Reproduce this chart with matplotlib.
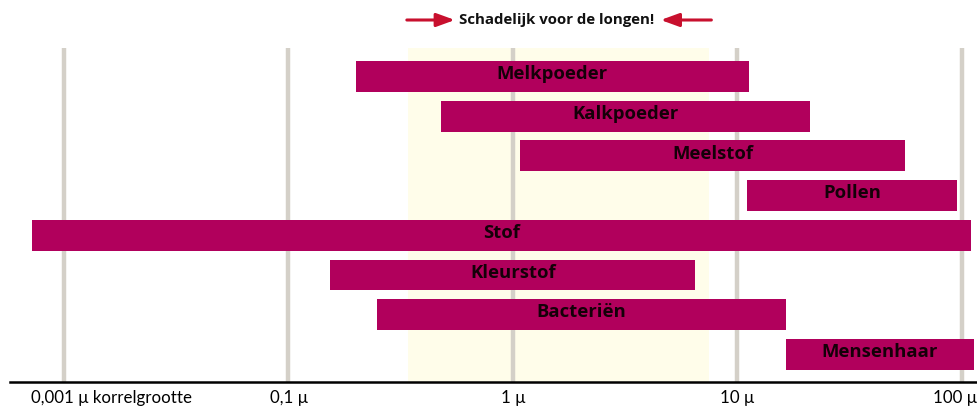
import matplotlib
matplotlib.use("Agg")
import matplotlib.pyplot as plt
import matplotlib.transforms as mtransforms
from matplotlib.ticker import NullLocator

# Data (particle size in micrometres)
categories = ["Melkpoeder", "Kalkpoeder", "Meelstof", "Pollen", "Stof",
              "Kleurstof", "Bacteriën", "Mensenhaar"]
size_min = [0.20, 0.48, 1.07, 11.0, 0.0072, 0.153, 0.248, 16.4]
size_max = [11.2, 21.0, 56.0, 95.0, 110.0, 6.5, 16.4, 113.0]
harmful_range = [0.34, 7.5]
harmful_label = "Schadelijk voor de longen!"
tick_values = [0.01, 0.1, 1, 10, 100]
tick_labels = ["0,001 μ korrelgrootte", "0,1 μ", "1 μ", "10 μ", "100 μ"]

BAR = "#b1005c"
GRID = "#d4d0c8"
BAND = "#fffdea"
ARROW = "#c8102e"
FONT = "Open Sans"
TFONT = "Lato"

fig = plt.figure(figsize=(9.77, 4.08), dpi=100)
ax = fig.add_axes([10 / 977, 26 / 408, 967 / 977, 334 / 408])
ax.set_xscale("log")
ax.set_xlim(0.005747, 116.65)
ax.set_ylim(7.695, -0.718)

# harmful band
ax.axvspan(harmful_range[0], harmful_range[1], color=BAND, zorder=0, lw=0)
# gridlines
for v in tick_values:
    ax.axvline(v, color=GRID, lw=3.2, zorder=1)

widths = [b - a for a, b in zip(size_min, size_max)]
ypos = list(range(len(categories)))
ax.barh(ypos, widths, left=size_min, height=0.78, color=BAR, zorder=2, lw=0)
for y, a, b, name in zip(ypos, size_min, size_max, categories):
    xc = (a * b) ** 0.5
    ax.text(xc, y - 0.06, name, ha="center", va="center", fontsize=13.3,
            fontweight="bold", color="#140008", family=FONT, zorder=3)

# axes styling
for s in ["top", "left", "right"]:
    ax.spines[s].set_visible(False)
ax.spines["bottom"].set_linewidth(1.8)
ax.spines["bottom"].set_color("black")
ax.yaxis.set_major_locator(NullLocator())
ax.xaxis.set_minor_locator(NullLocator())
ax.set_xticks(tick_values)
ax.set_xticklabels(tick_labels, family=TFONT, fontsize=12.2)
ax.tick_params(axis="x", length=0, pad=6)
labels = ax.get_xticklabels()
labels[0].set_horizontalalignment("left")
labels[0].set_transform(labels[0].get_transform()
                        + mtransforms.ScaledTranslation(-33 / 100, 0, fig.dpi_scale_trans))
labels[-1].set_transform(labels[-1].get_transform()
                         + mtransforms.ScaledTranslation(-7 / 100, 0, fig.dpi_scale_trans))

# harmful annotation
trans = ax.get_xaxis_transform()
yt = (382 - 20) / 334
ax.text(1.57, yt, harmful_label,
        ha="center", va="center", fontsize=10.8, fontweight="bold",
        family=FONT, color="#111111", transform=trans, clip_on=False)
aprops = dict(arrowstyle="-|>,head_length=1.1,head_width=0.4",
              color=ARROW, lw=2.2, shrinkA=0, shrinkB=0)
ax.annotate("", xy=(0.551, yt), xytext=(harmful_range[0] * 0.99, yt),
            xycoords=trans, textcoords=trans, arrowprops=aprops)
ax.annotate("", xy=(4.55, yt), xytext=(harmful_range[1] * 1.02, yt),
            xycoords=trans, textcoords=trans, arrowprops=aprops)

fig.savefig("out.png", dpi=100)
